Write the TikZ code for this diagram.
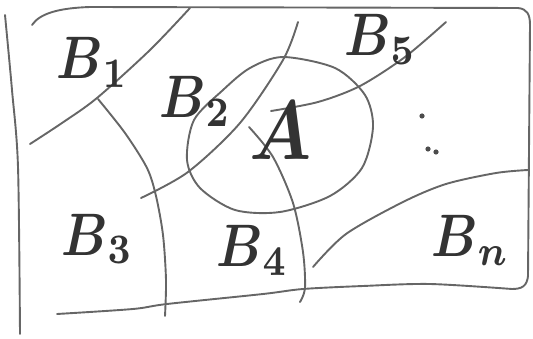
\documentclass[tikz,border=0pt]{standalone}
\usepackage{amsmath,amssymb}
\usepackage{tikz}
\usetikzlibrary{positioning,calc}

\begin{document}
\begin{tikzpicture}[x=1pt, y=-1pt, sketch/.style={draw=black!60, line width=1.9pt, line cap=round, line join=round}, region/.style={inner sep=0pt, scale=6, xscale=0.85, text=black!80, anchor=base west}]
    \useasboundingbox (0,0) rectangle (533,339);

    % frame of the whole set
    \draw [sketch] plot[smooth] coordinates {(5,15) (12,90) (18,167) (20,334)};
    \draw [sketch] (32,25) .. controls (40,13) and (60,8) .. (90,7) -- (518,8) .. controls (527,9) and (530,14) .. (530,25) -- (528,276) .. controls (527,286) and (522,289) .. (512,289);
    \draw [sketch] plot[smooth] coordinates {(512,289) (430,284) (363,286) (303,289) (263,294) (167,304) (133,309) (57,314)};

    % borders of the parts
    \draw [sketch] plot[smooth] coordinates {(30,144) (62,123) (97,98) (150,50) (190,8)};
    \draw [sketch] plot[smooth] coordinates {(98,99) (125,133) (147,168) (156,196) (163,235) (166,280) (165,316)};
    \draw [sketch] plot[smooth] coordinates {(141,198) (188,172) (240,123) (283,60) (298,22)};
    \draw [sketch] plot[smooth] coordinates {(249,127) (273,157) (293,203) (303,252) (305,288) (300,302)};
    \draw [sketch] plot[smooth] coordinates {(271,111) (318,102) (360,86) (405,57) (446,22)};
    \draw [sketch] plot[smooth] coordinates {(313,267) (346,234) (403,202) (446,184) (496,173) (528,170)};

    % the set A
    \draw [sketch] plot[smooth cycle] coordinates {(283,57) (335,68) (365,95) (373,127) (362,168) (330,196) (280,212) (235,210) (200,188) (187,160) (194,120) (223,90) (250,68)};

    % labels
    \node [region] (b1) at (55,79) {$\boldsymbol{B}_{\mathbf{1}}$};
    \node [region] (b2) at (158,118) {$\boldsymbol{B}_{\mathbf{2}}$};
    \node [region] (b3) at (60,255) {$\boldsymbol{B}_{\mathbf{3}}$};
    \node [region] (b4) at (215,267) {$\boldsymbol{B}_{\mathbf{4}}$};
    \node [region] (b5) at (343,56) {$\boldsymbol{B}_{\mathbf{5}}$};
    \node [region] (bn) at (430,257) {$\boldsymbol{B}_{\boldsymbol{n}}$};
    \node [region, scale=1.4] (a) at (248,160) {$\boldsymbol{A}$};

    % more parts
    \foreach \p in {(422,116), (428,149), (436,152)}
        \fill [black!70] \p circle (2.6);
\end{tikzpicture}
\end{document}
